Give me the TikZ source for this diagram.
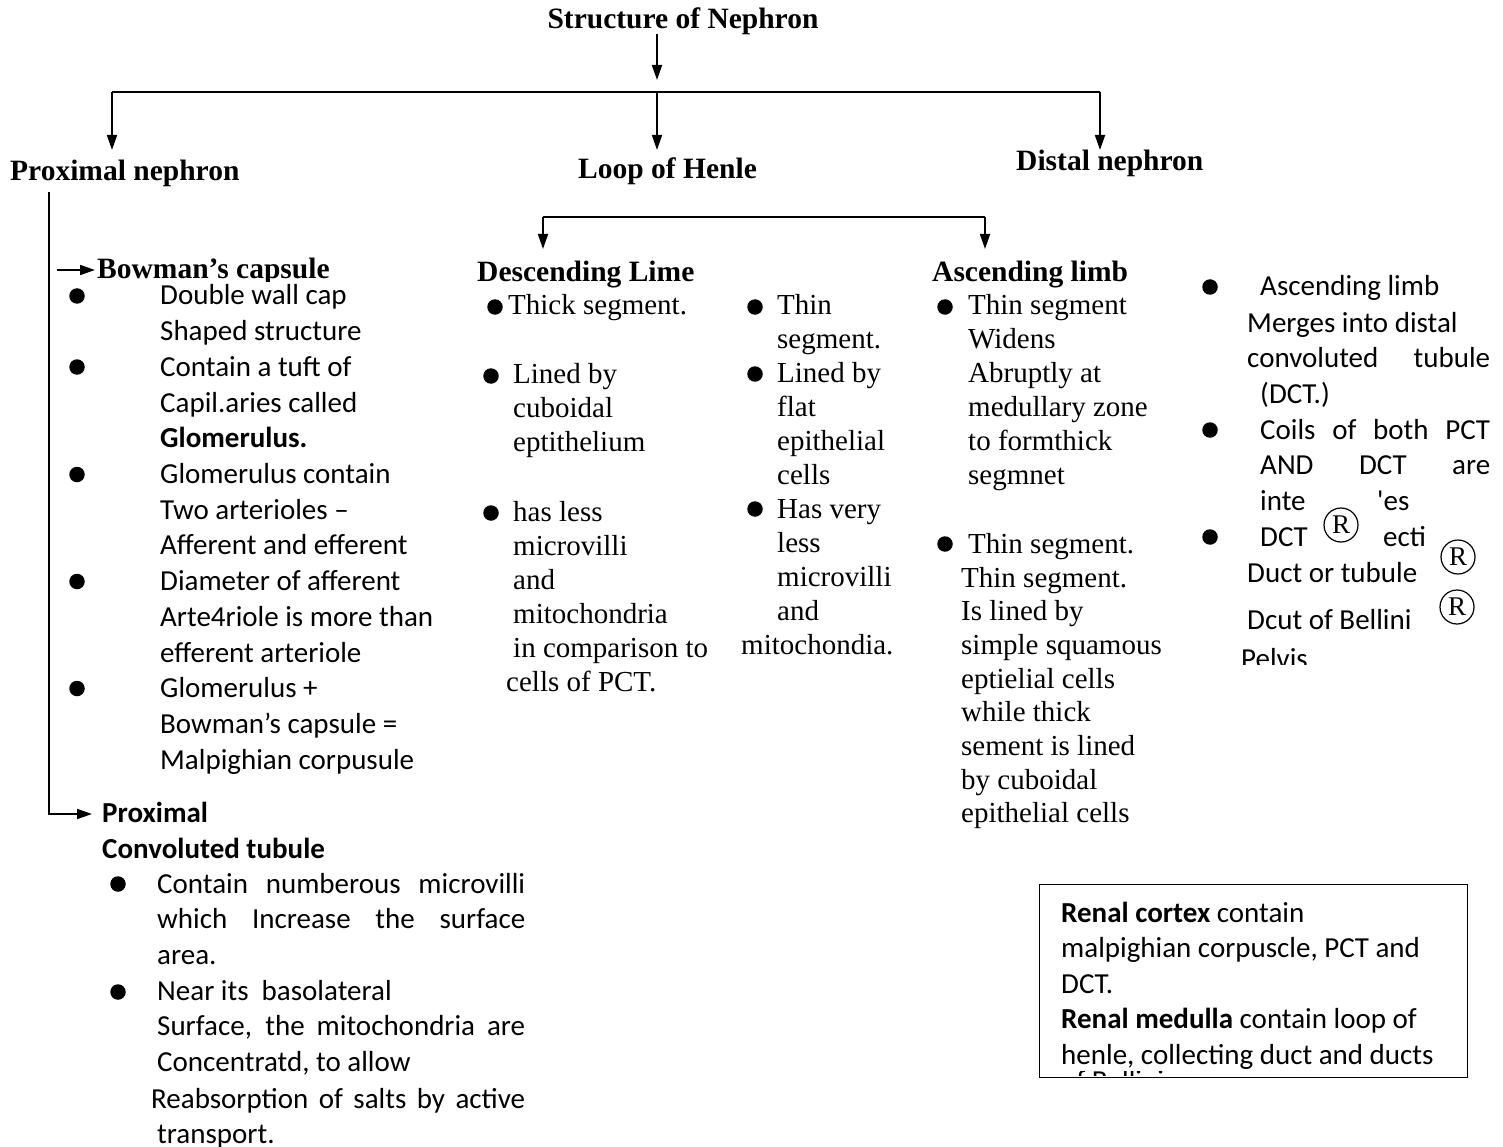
\documentclass[tikz,border=0pt]{standalone}
\usepackage{fontspec}
\setmainfont{Liberation Serif}
\newfontfamily\cbri{Carlito}
\usetikzlibrary{arrows.meta}
\tikzset{
 arr/.style={line width=1.8pt, -{Triangle[length=15pt,width=10pt]}},
 ln/.style={line width=1.8pt},
 hdr/.style={font=\bfseries\fontsize{29.5}{34}\selectfont, inner sep=0pt, anchor=base west},
 bul/.style={circle, fill=black, inner sep=0pt, minimum size=15.5pt},
 regm/.style={circle, draw, line width=1.2pt, inner sep=0pt, minimum size=34pt, font=\fontsize{27}{27}\selectfont},
 one/.style={anchor=base west, inner sep=0pt},
}
\newcommand\calb{\cbri\fontsize{29}{36}\selectfont}
\newcommand\tms{\fontsize{29}{34}\selectfont}
\newcommand\txtlines[6]{\foreach \t [count=\i from 0] in {#6} {\node[one, font=#5] (#1\i) at (#2,{#3+\i*#4}) {\t};}}
\begin{document}
\begin{tikzpicture}[x=1pt,y=-1pt]
\path[use as bounding box, fill=white] (0,0) rectangle (1503,1147);

% ---------- top level ----------
\node[hdr, anchor=base] (title) at (683,29) {Structure of Nephron};
\node[hdr] (prox) at (10,181) {Proximal nephron};
\node[hdr] (loop) at (578,179) {Loop of Henle};
\node[hdr] (dist) at (1016,171) {Distal nephron};

\coordinate (s0) at (657,34);
\coordinate (e0) at (657,80);
\coordinate (jl) at (112,92);
\coordinate (jm) at (657,92);
\coordinate (jr) at (1100,92);
\coordinate (tl) at (112,150);
\coordinate (tm) at (657,150);
\coordinate (tr) at (1100,150);
\draw[arr] (s0) -- (e0);
\draw[ln] (jl) -- (jr);
\draw[arr] (jl) -- (tl);
\draw[arr] (jm) -- (tm);
\draw[arr] (jr) -- (tr);

% ---------- loop of Henle branch ----------
\node[hdr] (desc) at (477,282) {Descending Lime};
\node[hdr] (asc) at (932,282) {Ascending limb};
\coordinate (h1) at (543,217);
\coordinate (h2) at (985,217);
\coordinate (h1t) at (543,249);
\coordinate (h2t) at (985,249);
\draw[ln] (h1) -- (h2);
\draw[arr] (h1) -- (h1t);
\draw[arr] (h2) -- (h2t);

% ---------- proximal nephron ----------
\begin{scope}
\clip (90,240) rectangle (400,282);
\node[hdr] (bow) at (97,279) {Bowman's capsule};
\end{scope}
\node[one, font=\cbri\bfseries\fontsize{29}{36}\selectfont] (pct) at (102,822) {Proximal};
\node[one, font=\cbri\bfseries\fontsize{29}{36}\selectfont] (pct2) at (102,858) {Convoluted tubule};
\coordinate (v0) at (49,192);
\coordinate (v1) at (49,814);
\coordinate (pa) at (92,814);
\coordinate (ba0) at (57,270);
\coordinate (ba1) at (95,270);
\draw[arr] (v0) -- (v1) -- (pa);
\draw[arr] (ba0) -- (ba1);

\txtlines{bw}{160}{305}{35.7}{\calb}{Double wall cap, Shaped structure, Contain a tuft of, Capil.aries called, {\bfseries Glomerulus.}, Glomerulus contain, Two arterioles –, Afferent and efferent, Diameter of afferent, Arte4riole is more than, efferent arteriole, Glomerulus +, Bowman’s capsule =, Malpighian corpusule}
\foreach \k/\yy in {1/296,2/367,3/474.5,4/581.5,5/688.5} {\node[bul] (bb\k) at (77,\yy) {};}

\txtlines{pc}{157}{893}{35.7}{\calb}{{\makebox[368pt][s]{Contain numberous microvilli}}, {\makebox[368pt][s]{which Increase the surface}}, {area.}, {Near its~ basolateral}, {\makebox[368pt][s]{Surface, the mitochondria are}}, {Concentratd, to allow}}
\node[one, font=\calb] (pc6) at (151,1108.5) {\makebox[374pt][s]{Reabsorption of salts by active}};
\node[one, font=\calb] (pc7) at (157,1143.5) {transport.};
\node[bul] (pb1) at (118,884) {};
\node[bul] (pb2) at (118,992) {};

% ---------- descending limb columns ----------
\node[bul] (da1) at (495,307) {};
\node[one, font=\tms] (dt) at (508,314) {Thick segment.};
\node[bul] (da2) at (491,376) {};
\txtlines{dl}{513}{383}{34}{\tms}{Lined by, cuboidal, eptithelium}
\node[bul] (da3) at (491,513) {};
\txtlines{dh}{513}{521}{34}{\tms}{has less, microvilli, and, mitochondria, in comparison to}
\node[one, font=\tms] (dh5) at (506,691) {cells of PCT.};

\node[bul] (db1) at (755,307) {};
\txtlines{dn}{777}{314}{34}{\tms}{Thin, segment.}
\node[bul] (db2) at (755,374) {};
\txtlines{df}{777}{382}{34}{\tms}{Lined by, flat, epithelial, cells}
\node[bul] (db3) at (755,509) {};
\txtlines{dv}{777}{518}{34}{\tms}{Has very, less, microvilli, and}
\node[one, font=\tms] (dv4) at (741,654) {mitochondia.};

% ---------- ascending limb ----------
\node[bul] (ab1) at (945,307) {};
\txtlines{aw}{968}{315}{33.9}{\tms}{Thin segment, Widens, Abruptly at, medullary zone, to formthick, segmnet}
\node[bul] (ab2) at (945,544) {};
\node[one, font=\tms] (as0) at (968,553) {Thin segment.};
\txtlines{as}{961}{587}{33.7}{\tms}{Thin segment., Is lined by, simple squamous, eptielial cells, while thick, sement is lined, by cuboidal, epithelial cells}

% ---------- distal nephron ----------
\node[bul] (xb1) at (1210,287) {};
\node[bul] (xb2) at (1210,430) {};
\node[bul] (xb3) at (1210,537) {};
\node[one, font=\calb] (x0) at (1260,296) {Ascending limb};
\node[one, font=\calb] (x1) at (1247,332) {Merges into distal};
\node[one, font=\calb] (x2) at (1247,367) {\makebox[243pt][s]{convoluted tubule}};
\node[one, font=\calb] (x3) at (1260,403) {(DCT.)};
\node[one, font=\calb] (x4) at (1260,439) {\makebox[230pt][s]{Coils of both PCT}};
\node[one, font=\calb] (x5) at (1260,474) {\makebox[230pt][s]{AND DCT are}};
\node[one, font=\calb] (x6) at (1260,510) {inte};
\node[one, font=\calb] (x6b) at (1377,510) {'es};
\node[one, font=\calb] (x7) at (1260,546) {DCT};
\node[one, font=\calb] (x7b) at (1383,546) {ecti};
\node[one, font=\calb] (x8) at (1247,582) {Duct or tubule};
\node[one, font=\calb] (x9) at (1247,629) {Dcut of Bellini};
\begin{scope}
\clip (1200,600) rectangle (1400,664);
\node[one, font=\calb] (x10) at (1241,668) {Pelvis};
\end{scope}
\node[regm] (r1) at (1341,525) {R};
\node[regm] (r2) at (1458,557) {R};
\node[regm] (r3) at (1457,607) {R};

% ---------- renal box ----------
\node[draw, line width=1.4pt, anchor=north west, minimum width=428pt, minimum height=193pt, inner sep=0pt] (rbox) at (1039,884) {};
\txtlines{rb}{1061}{922}{35.5}{\calb}{{\bfseries Renal cortex} contain, {malpighian corpuscle, PCT and}, DCT., {\bfseries Renal medulla} contain loop of, {henle, collecting duct and ducts}}
\begin{scope}
\clip (1045,1071) rectangle (1460,1075.5);
\node[one, font=\calb] (rb5) at (1061,1090) {of Bellini};
\end{scope}
\end{tikzpicture}
\end{document}
